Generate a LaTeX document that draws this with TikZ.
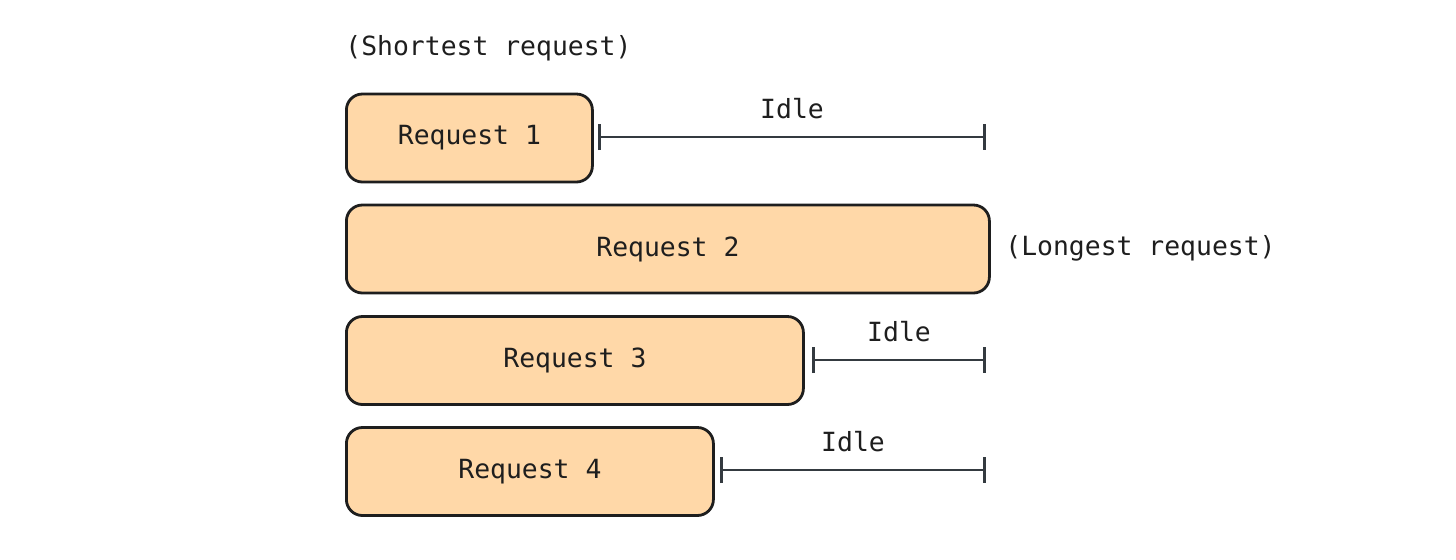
\documentclass[tikz,border=0pt]{standalone}
\usepackage{fontspec}
\setmonofont{DejaVu Sans Mono}
\usetikzlibrary{arrows.meta}

\definecolor{reqfill}{HTML}{FFD8A8}
\definecolor{ink}{HTML}{1E1E1E}
\definecolor{idleline}{HTML}{343A40}

\tikzset{
  reqbox/.style={draw=ink, fill=reqfill, line width=1.4pt, rounded corners=8pt,
    minimum height=44pt, anchor=west, text=ink},
  note/.style={text=ink, anchor=west, inner sep=0pt},
  idle/.style={draw=idleline, line width=1.3pt, {Bar[width=13pt]}-{Bar[width=13pt]}},
  idlelabel/.style={text=ink, midway, above=8.5pt, inner sep=0pt}
}

\begin{document}
\begin{tikzpicture}[x=0.5pt, y=-0.5pt, font=\ttfamily\fontsize{13.2}{16}\selectfont]
\useasboundingbox (0,0) rectangle (1456,559);
\node[note] (short) at (345,48) {(Shortest request)};
\node[reqbox, minimum width=123pt] (req1) at (345,138) {Request 1};
\node[reqbox, minimum width=321.5pt] (req2) at (345,249) {Request 2};
\node[reqbox, minimum width=228.5pt] (req3) at (345,360.5) {Request 3};
\node[reqbox, minimum width=183.5pt] (req4) at (345,471.5) {Request 4};
\node[note] (long) at (1005,248) {(Longest request)};
% idle spans up to the end of the longest request
\coordinate (end1) at (986,137);
\coordinate (end3) at (986,360);
\coordinate (end4) at (986,470);
\coordinate (start1) at (598,137);
\coordinate (start3) at (812,360);
\coordinate (start4) at (720,470);
\draw[idle] (start1) -- (end1) node[idlelabel] {Idle};
\draw[idle] (start3) -- (end3) node[idlelabel] {Idle};
\draw[idle] (start4) -- (end4) node[idlelabel] {Idle};
\end{tikzpicture}
\end{document}
